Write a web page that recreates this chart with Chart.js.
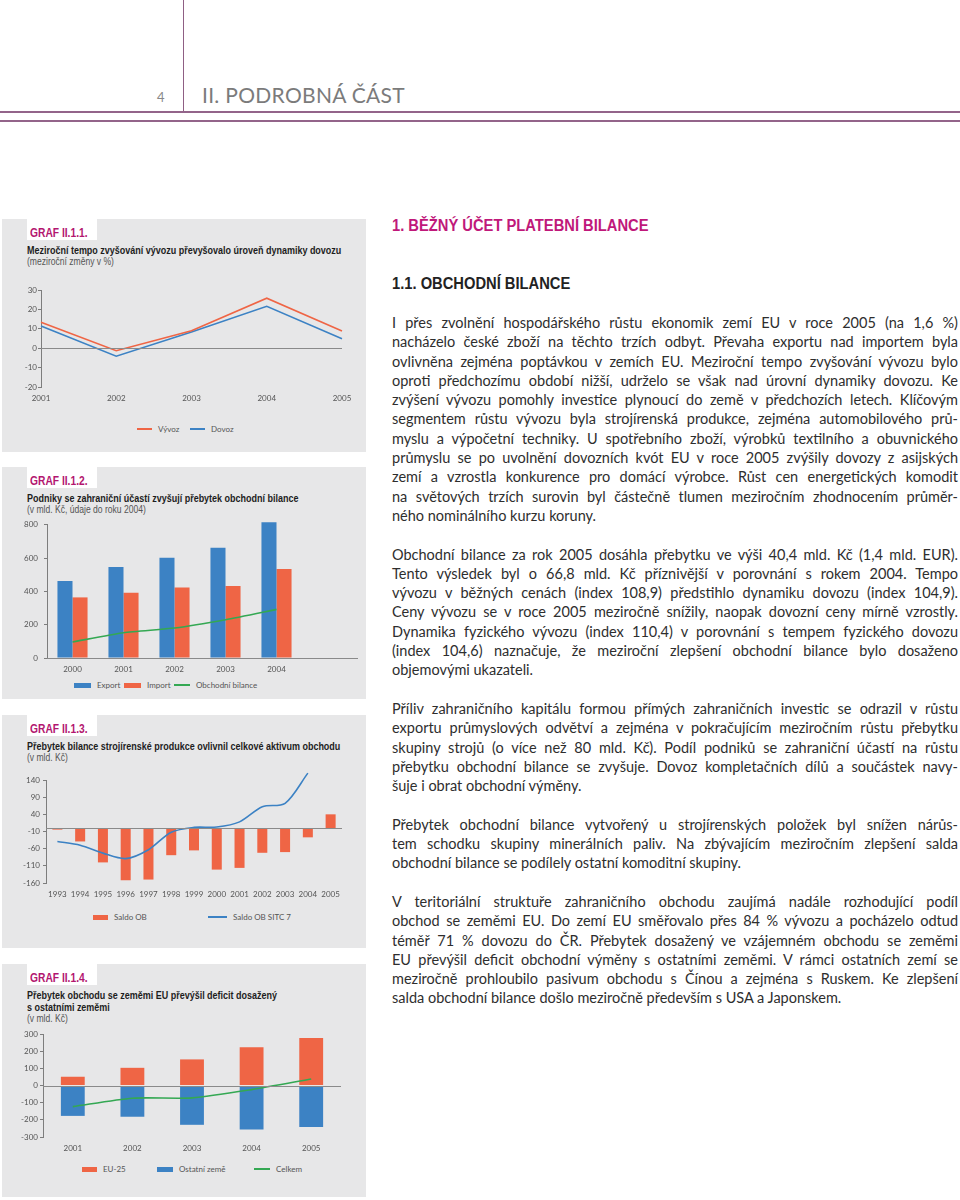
<!DOCTYPE html>
<html lang="cs">
<head>
<meta charset="utf-8">
<title>II. Podrobná část – obchodní bilance</title>
<script src="https://cdn.jsdelivr.net/npm/chart.js@4.4.1/dist/chart.umd.min.js"></script>
<style>
body { margin:0; background:#fff; }
#page { position:relative; width:960px; height:1200px; overflow:hidden; font-family:Lato, "Open Sans", sans-serif; color:#333; }
.vline { position:absolute; left:183px; top:0; width:1px; height:112px; background:#8f5f84; }
.hline { position:absolute; left:0; width:960px; height:2px; background:#93648a; }
.pgnum { position:absolute; left:157px; top:91px; font-size:13px; line-height:1; color:#888; }
.pghead { position:absolute; left:202px; top:84px; font-size:21px; line-height:1; color:#7b7b7b; letter-spacing:0.3px; }

/* condensed look: Liberation Sans squeezed like Arial Narrow */
.nar { font-family:"Liberation Sans", Arial, sans-serif; transform:scaleX(0.82); transform-origin:0 0; white-space:nowrap; }

.panel { position:absolute; left:2px; width:364px; background:#e7e7e8; }
.tab { position:absolute; left:25px; top:0; width:70px; height:21px; background:#fff; }
.graf { position:absolute; left:28px; top:8px; font-size:12.5px; font-weight:bold; line-height:1; color:#b3166f; }
.head { position:absolute; left:25px; top:25px; transform:scaleX(0.855); }
.title { font-size:10.5px; line-height:12px; font-weight:bold; color:#1d1d1d; }
.sub { font-size:10px; line-height:11px; color:#555; }
canvas { position:absolute; left:0; }

.legend { position:absolute; left:0; width:366px; height:10px; font:8px/10px Lato, sans-serif; color:#555; }
.legend i { position:absolute; display:block; }
.legend span { position:absolute; top:0; white-space:nowrap; }

.h1 { position:absolute; left:392px; top:218px; font-size:16px; font-weight:bold; line-height:1; color:#c0187a; transform:scaleX(0.92); }
.h2 { position:absolute; left:392px; top:276px; font-size:16px; font-weight:bold; line-height:1; color:#222; transform:scaleX(0.92); }
#text { position:absolute; left:392px; top:313px; width:566px; font-size:14.5px; line-height:19.3px; color:#2e2e2e; }
#text p { margin:0 0 19.3px 0; }
#text .j { white-space:nowrap; text-align:justify; text-align-last:justify; }
#text .e { white-space:nowrap; }
</style>
</head>
<body>
<div id="page">
  <div class="vline"></div>
  <div class="pgnum">4</div>
  <div class="pghead">II. PODROBNÁ ČÁST</div>
  <div class="hline" style="top:111px"></div>
  <div class="hline" style="top:120px"></div>

  <div class="panel" style="top:219px;height:233px">
    <div class="tab"></div>
    <div class="graf nar">GRAF II.1.1.</div>
    <div class="head nar">
      <div class="title">Meziroční tempo zvyšování vývozu převyšovalo úroveň dynamiky dovozu</div>
      <div class="sub">(meziroční změny v %)</div>
    </div>
  </div>
  <canvas id="chart1" width="366" height="126" style="top:280px"></canvas>

  <div class="panel" style="top:467px;height:232px">
    <div class="tab"></div>
    <div class="graf nar">GRAF II.1.2.</div>
    <div class="head nar">
      <div class="title">Podniky se zahraniční účastí zvyšují přebytek obchodní bilance</div>
      <div class="sub">(v mld. Kč, údaje do roku 2004)</div>
    </div>
  </div>
  <canvas id="chart2" width="366" height="163" style="top:514px"></canvas>

  <div class="panel" style="top:715px;height:233px">
    <div class="tab"></div>
    <div class="graf nar">GRAF II.1.3.</div>
    <div class="head nar">
      <div class="title">Přebytek bilance strojírenské produkce ovlivnil celkové aktivum obchodu</div>
      <div class="sub">(v mld. Kč)</div>
    </div>
  </div>
  <canvas id="chart3" width="366" height="133" style="top:770px"></canvas>

  <div class="panel" style="top:964px;height:233px">
    <div class="tab"></div>
    <div class="graf nar">GRAF II.1.4.</div>
    <div class="head nar">
      <div class="title">Přebytek obchodu se zeměmi EU převýšil deficit dosažený<br>s ostatními zeměmi</div>
      <div class="sub">(v mld. Kč)</div>
    </div>
  </div>
  <canvas id="chart4" width="366" height="133" style="top:1024px"></canvas>

  <div class="h1 nar">1. BĚŽNÝ ÚČET PLATEBNÍ BILANCE</div>
  <div class="h2 nar">1.1. OBCHODNÍ BILANCE</div>
  <div id="text"></div>
</div>

<script>
// ======================
// DATA
// ======================

// graf II.1.1 - mezirocni zmeny v %
const years1 = ["2001", "2002", "2003", "2004", "2005"];
const vyvoz = [13.4, -1.3, 9.0, 25.8, 8.9];
const dovoz = [11.4, -4.1, 8.4, 21.6, 4.9];
const ticks1 = [-20, -10, 0, 10, 20, 30];

// graf II.1.2 - v mld. Kc
const years2 = ["2000", "2001", "2002", "2003", "2004"];
const exportVals = [462, 546, 602, 662, 816];
const importVals = [364, 392, 424, 432, 534];
const bilance2 = [96, 152, 180, 230, 292];
const ticks2 = [0, 200, 400, 600, 800];

// graf II.1.3 - v mld. Kc
const years3 = ["1993", "1994", "1995", "1996", "1997", "1998", "1999", "2000", "2001", "2002", "2003", "2004", "2005"];
const saldoOB = [-4.5, -39, -100, -152, -150, -79, -65, -121, -116, -72, -70, -27, 40];
const saldoSitc7 = [-39, -50, -73, -89, -63, -12, 2, 3, 18, 62, 72, 160, null];
const ticks3 = [-160, -110, -60, -10, 40, 90, 140];

// graf II.1.4 - v mld. Kc
const years4 = ["2001", "2002", "2003", "2004", "2005"];
const eu25 = [51, 103, 152, 223, 277];
const ostatni = [-177, -182, -229, -256, -242];
const celkem = [-123, -74, -72, -24, 38];
const ticks4 = [-300, -200, -100, 0, 100, 200, 300];

const RED = "#ef6545";
const BLUE = "#3c82c4";
const GREEN = "#34a853";
const AXIS = "#7d7d7d";

Chart.defaults.font.family = 'Lato, "Open Sans", sans-serif';
Chart.defaults.font.size = 8;
Chart.defaults.color = "#555";

// gray line at value 0 (can run past the plot, like in graf II.1.2)
const zeroLine = {
  id: "zeroLine",
  afterDatasetsDraw(chart, args, opts) {
    const { ctx, chartArea, scales } = chart;
    const y = Math.round(scales.y.getPixelForValue(0)) + 0.5;
    ctx.save();
    ctx.strokeStyle = "#8a8a8a";
    ctx.lineWidth = 1;
    ctx.beginPath();
    ctx.moveTo(chartArea.left, y);
    ctx.lineTo(opts.right || chartArea.right, y);
    ctx.stroke();
    ctx.restore();
  }
};

function options(c) {
  return {
    responsive: false,
    animation: false,
    layout: { padding: { top: 10, right: c.padRight, left: 0, bottom: 0 } },
    plugins: {
      legend: { display: false },
      tooltip: { enabled: false },
      zeroLine: { right: c.zeroRight }
    },
    scales: {
      x: {
        offset: c.offset,
        stacked: c.stacked,
        grid: { display: false, drawTicks: false },
        border: { display: false },
        ticks: { padding: 7, maxRotation: 0, autoSkip: false },
        afterFit: s => { s.height = c.xh; }
      },
      y: {
        min: c.ticks[0],
        max: c.ticks[c.ticks.length - 1],
        stacked: c.stacked,
        ticks: { stepSize: c.ticks[1] - c.ticks[0], padding: c.tp },
        grid: { drawOnChartArea: false, tickLength: 3, tickColor: AXIS },
        border: { color: AXIS },
        afterFit: s => { s.width = c.yw; }
      }
    }
  };
}

function line(label, data, color, tension) {
  return { type: "line", label, data, borderColor: color, backgroundColor: color,
           borderWidth: 1.6, pointRadius: 0, tension: tension || 0, order: 0, clip: false };
}

function bar(label, data, color, extra) {
  return Object.assign({ type: "bar", label, data, backgroundColor: color, borderWidth: 0, order: 1, clip: false }, extra);
}

// html legend under each chart
function legend(chart, top, xs) {
  const box = document.createElement("div");
  box.className = "legend";
  box.style.top = (top - 5) + "px";
  chart.data.datasets.forEach((ds, i) => {
    const isLine = ds.type === "line";
    const sw = document.createElement("i");
    sw.style.left = xs[i][0] + "px";
    sw.style.width = xs[i][1] + "px";
    sw.style.height = isLine ? "2px" : "5px";
    sw.style.top = isLine ? "4px" : "2.5px";
    sw.style.background = isLine ? ds.borderColor : ds.backgroundColor;
    const tx = document.createElement("span");
    tx.textContent = ds.label;
    tx.style.left = (xs[i][0] + xs[i][1] + 6) + "px";
    box.append(sw, tx);
  });
  document.getElementById("page").append(box);
}

// ======================
// GRAF II.1.1
// ======================
const chart1 = new Chart(document.getElementById("chart1"), {
  type: "line",
  data: {
    labels: years1,
    datasets: [line("Vývoz", vyvoz, RED), line("Dovoz", dovoz, BLUE)]
  },
  options: options({ ticks: ticks1, yw: 41, tp: 1, xh: 19, padRight: 24, offset: false }),
  plugins: [zeroLine]
});
legend(chart1, 429, [[137, 15], [190, 15]]);

// ======================
// GRAF II.1.2
// ======================
const barOpts2 = { categoryPercentage: 0.59, barPercentage: 1 };
const chart2 = new Chart(document.getElementById("chart2"), {
  type: "bar",
  data: {
    labels: years2,
    datasets: [
      bar("Export", exportVals, BLUE, barOpts2),
      bar("Import", importVals, RED, barOpts2),
      line("Obchodní bilance", bilance2, GREEN, 0.2)
    ]
  },
  options: options({ ticks: ticks2, yw: 47, tp: 6, xh: 19, padRight: 64, offset: true, zeroRight: 358 }),
  plugins: [zeroLine]
});
legend(chart2, 685, [[74, 17], [124, 17], [174, 16]]);

// ======================
// GRAF II.1.3
// ======================
const chart3 = new Chart(document.getElementById("chart3"), {
  type: "bar",
  data: {
    labels: years3,
    datasets: [
      bar("Saldo OB", saldoOB, RED, { categoryPercentage: 1, barPercentage: 0.44 }),
      line("Saldo OB SITC 7", saldoSitc7, BLUE, 0.3)
    ]
  },
  options: options({ ticks: ticks3, yw: 46, tp: 3, xh: 20, padRight: 24, offset: true }),
  plugins: [zeroLine]
});
legend(chart3, 917, [[93, 15], [208, 19]]);

// ======================
// GRAF II.1.4
// ======================
const barOpts4 = { categoryPercentage: 1, barPercentage: 0.4 };
const chart4 = new Chart(document.getElementById("chart4"), {
  type: "bar",
  data: {
    labels: years4,
    datasets: [
      bar("EU-25", eu25, RED, barOpts4),
      bar("Ostatní země", ostatni, BLUE, barOpts4),
      line("Celkem", celkem, GREEN, 0.25)
    ]
  },
  options: options({ ticks: ticks4, yw: 43, tp: 2, xh: 20, padRight: 25, offset: true, stacked: true }),
  plugins: [zeroLine]
});
legend(chart4, 1169, [[82, 15], [157, 16], [254, 16]]);

// ======================
// TEXT (one entry per printed line)
// ======================
const paragraphs = [
  [
    "I přes zvolnění hospodářského růstu ekonomik zemí EU v roce 2005 (na 1,6 %)",
    "nacházelo české zboží na těchto trzích odbyt. Převaha exportu nad importem byla",
    "ovlivněna zejména poptávkou v zemích EU. Meziroční tempo zvyšování vývozu bylo",
    "oproti předchozímu období nižší, udrželo se však nad úrovní dynamiky dovozu. Ke",
    "zvýšení vývozu pomohly investice plynoucí do země v předchozích letech. Klíčovým",
    "segmentem růstu vývozu byla strojírenská produkce, zejména automobilového prů-",
    "myslu a výpočetní techniky. U spotřebního zboží, výrobků textilního a obuvnického",
    "průmyslu se po uvolnění dovozních kvót EU v roce 2005 zvýšily dovozy z asijských",
    "zemí a vzrostla konkurence pro domácí výrobce. Růst cen energetických komodit",
    "na světových trzích surovin byl částečně tlumen meziročním zhodnocením průměr-",
    "ného nominálního kurzu koruny."
  ],
  [
    "Obchodní bilance za rok 2005 dosáhla přebytku ve výši 40,4 mld. Kč (1,4 mld. EUR).",
    "Tento výsledek byl o 66,8 mld. Kč příznivější v porovnání s rokem 2004. Tempo",
    "vývozu v běžných cenách (index 108,9) předstihlo dynamiku dovozu (index 104,9).",
    "Ceny vývozu se v roce 2005 meziročně snížily, naopak dovozní ceny mírně vzrostly.",
    "Dynamika fyzického vývozu (index 110,4) v porovnání s tempem fyzického dovozu",
    "(index 104,6) naznačuje, že meziroční zlepšení obchodní bilance bylo dosaženo",
    "objemovými ukazateli."
  ],
  [
    "Příliv zahraničního kapitálu formou přímých zahraničních investic se odrazil v růstu",
    "exportu průmyslových odvětví a zejména v pokračujícím meziročním růstu přebytku",
    "skupiny strojů (o více než 80 mld. Kč). Podíl podniků se zahraniční účastí na růstu",
    "přebytku obchodní bilance se zvyšuje. Dovoz kompletačních dílů a součástek navy-",
    "šuje i obrat obchodní výměny."
  ],
  [
    "Přebytek obchodní bilance vytvořený u strojírenských položek byl snížen nárůs-",
    "tem schodku skupiny minerálních paliv. Na zbývajícím meziročním zlepšení salda",
    "obchodní bilance se podílely ostatní komoditní skupiny."
  ],
  [
    "V teritoriální struktuře zahraničního obchodu zaujímá nadále rozhodující podíl",
    "obchod se zeměmi EU. Do zemí EU směřovalo přes 84\u00a0% vývozu a pocházelo odtud",
    "téměř 71\u00a0% dovozu do ČR. Přebytek dosažený ve vzájemném obchodu se zeměmi",
    "EU převýšil deficit obchodní výměny s ostatními zeměmi. V rámci ostatních zemí se",
    "meziročně prohloubilo pasivum obchodu s Čínou a zejména s Ruskem. Ke zlepšení",
    "salda obchodní bilance došlo meziročně především s USA a Japonskem."
  ]
];

const text = document.getElementById("text");
paragraphs.forEach(lines => {
  const p = document.createElement("p");
  lines.forEach((t, i) => {
    const d = document.createElement("div");
    d.className = i === lines.length - 1 ? "e" : "j";
    d.textContent = t;
    p.append(d);
  });
  text.append(p);
});
</script>
</body>
</html>
